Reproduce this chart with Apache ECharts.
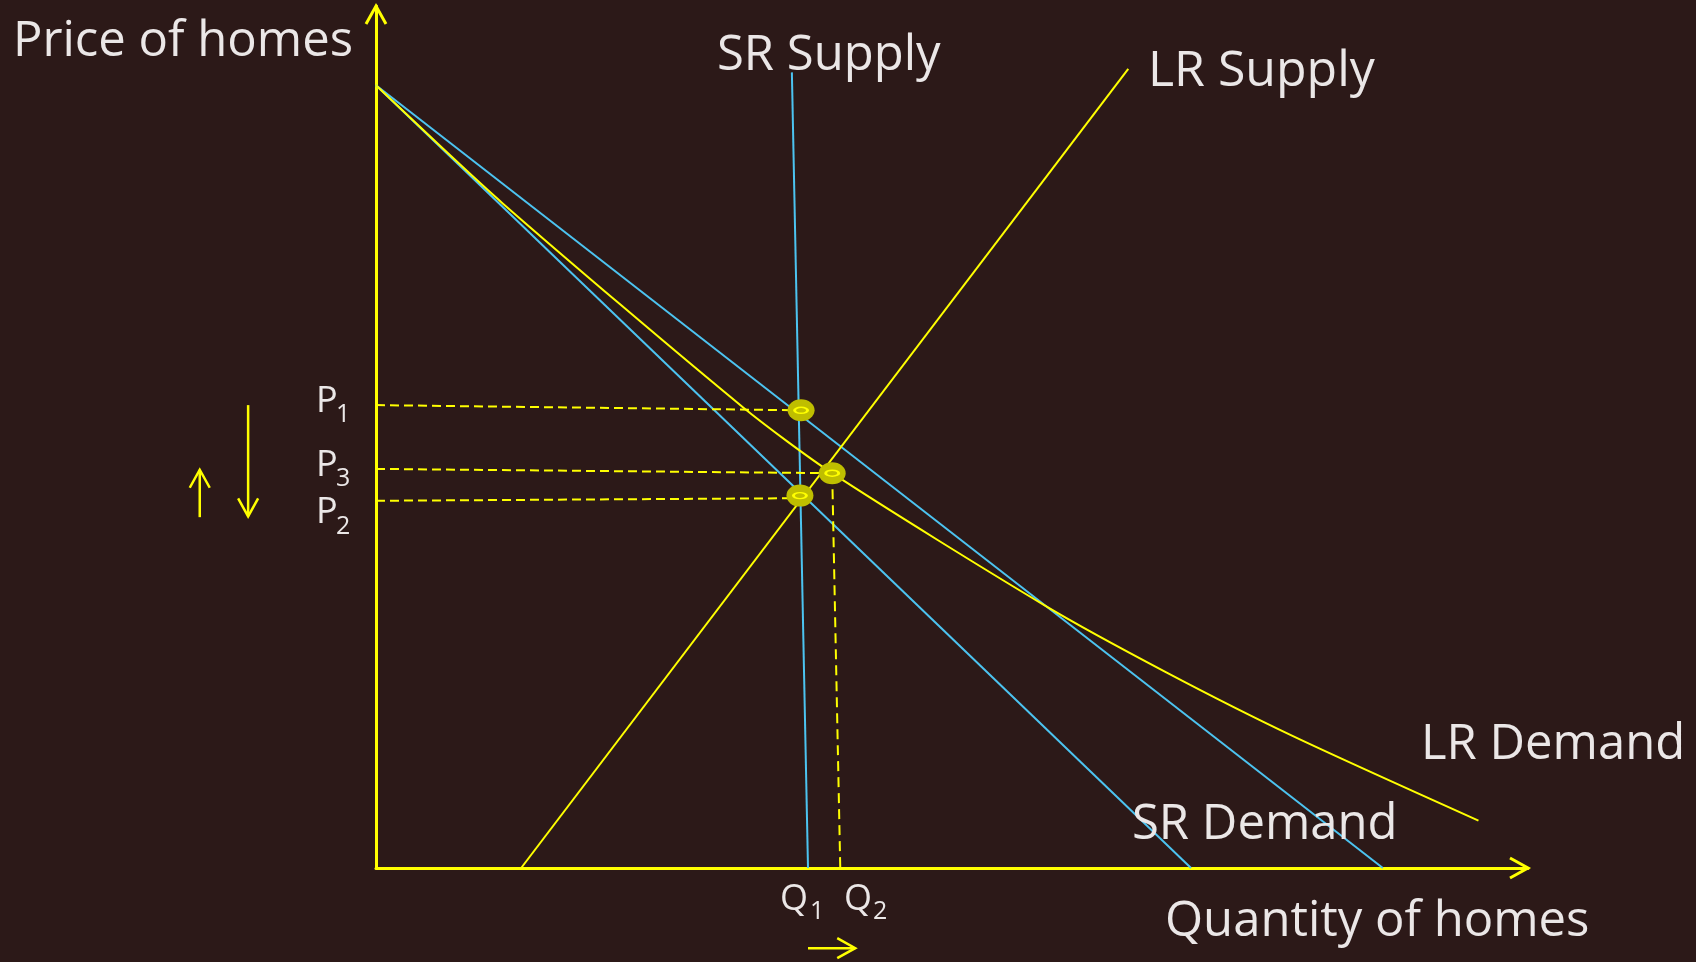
<!DOCTYPE html>
<html><head><meta charset="utf-8">
<script src="https://cdn.jsdelivr.net/npm/echarts@6/dist/echarts.min.js"></script>
<style>html,body{margin:0;padding:0;background:#2c1918;}#c{width:1696px;height:962px;}</style>
</head><body><div id="c"></div>
<script>
// ---- data (chart units: x 0..100 quantity, y 0..100 price) ----
const srDemandShort = [[0, 90.8], [70.75, 0]];
const srDemandLong = [[0, 90.8], [87.4, 0]];
const lrDemand = [[0, 90.8], [11.0, 77.1], [31.9, 53.4], [39.6, 45.8], [58.0, 30.5], [68.6, 22.7], [79.6, 15.3], [95.7, 5.5]];
const srSupply = [[36.1, 92.3], [37.5, 0]];
const lrSupply = [[12.6, 0], [65.3, 92.7]];
const equilibria = [[36.9, 53.1], [39.6, 45.8], [36.8, 43.2]];
const priceGuideP1 = [[0, 53.7], [36.9, 53.1]];
const priceGuideP3 = [[0, 46.3], [39.6, 45.8]];
const priceGuideP2 = [[0, 42.6], [36.8, 42.9]];
const quantityGuideQ2 = [[39.6, 45.8], [40.3, 0]];
const axisArrows = [[0, 90, 0, 100], [90, 0, 100, 0]];
const shiftArrows = [[-15.3, 40.7, -15.3, 46.2], [-11.1, 53.7, -11.1, 40.8], [37.5, -9.3, 41.6, -9.3]];
const axisTitles = ['Price of homes', 'Quantity of homes'];
const curveNames = ['SR Supply', 'LR Supply', 'LR Demand', 'SR Demand'];

const YEL = '#ffff00', BLUE = '#4cc3f0', TXT = '#ebe7e7';
const FONT = '"Open Sans", "Noto Sans", sans-serif';

function arrowRender(width, shaft) {
  return function (params, api) {
    const a = api.coord([api.value(0), api.value(1)]);
    const b = api.coord([api.value(2), api.value(3)]);
    const dx = b[0] - a[0], dy = b[1] - a[1];
    const len = Math.hypot(dx, dy), ux = dx / len, uy = dy / len;
    const L = 18, W = 10;
    const p1 = [b[0] - ux * L - uy * W, b[1] - uy * L + ux * W];
    const p2 = [b[0] - ux * L + uy * W, b[1] - uy * L - ux * W];
    const children = [{ type: 'polyline', shape: { points: [p1, b, p2] }, style: { stroke: YEL, lineWidth: width, fill: null } }];
    if (shaft) children.push({ type: 'line', shape: { x1: a[0], y1: a[1], x2: b[0], y2: b[1] }, style: { stroke: YEL, lineWidth: width } });
    return { type: 'group', children };
  };
}

function lineSeries(data, color, extra) {
  return Object.assign({
    type: 'line', data, symbol: 'none', clip: false, smooth: false,
    lineStyle: { color, width: 2 }, silent: true, animation: false
  }, extra || {});
}
function dashed(data) {
  return lineSeries(data, YEL, { lineStyle: { color: YEL, width: 2, type: [9, 5] }, z: 3 });
}

function txt(text, x, y, size) {
  return { type: 'text', x, y, silent: true, z: 100,
    style: { text, fill: TXT, font: size + 'px ' + FONT, textAlign: 'left', textVerticalAlign: 'middle', align: 'left', verticalAlign: 'middle' } };
}

const chart = echarts.init(document.getElementById('c'), null, { renderer: 'canvas' });
chart.setOption({
  backgroundColor: '#2c1918',
  animation: false,
  grid: { left: 376, right: 168, top: 6, bottom: 94, outerBoundsMode: 'none', containLabel: false },
  xAxis: { type: 'value', min: 0, max: 100, axisLine: { show: true, onZero: false, lineStyle: { color: YEL, width: 3 } },
    axisTick: { show: false }, axisLabel: { show: false }, splitLine: { show: false } },
  yAxis: { type: 'value', min: 0, max: 100, axisLine: { show: true, onZero: false, lineStyle: { color: YEL, width: 3 } },
    axisTick: { show: false }, axisLabel: { show: false }, splitLine: { show: false } },
  series: [
    lineSeries(srDemandShort, BLUE),
    lineSeries(srDemandLong, BLUE),
    lineSeries(srSupply, BLUE),
    lineSeries(lrSupply, YEL),
    lineSeries(lrDemand, YEL, { smooth: 0.25 }),
    dashed(priceGuideP1), dashed(priceGuideP3), dashed(priceGuideP2),
    lineSeries(quantityGuideQ2, YEL, { lineStyle: { color: YEL, width: 2, type: [10, 6] }, z: 3 }),
    { type: 'scatter', data: equilibria, symbol: 'circle', symbolSize: [27, 22], silent: true, z: 5,
      itemStyle: { color: '#bfbe00', opacity: 1 } },
    { type: 'scatter', data: equilibria, symbol: 'circle', symbolSize: [13, 6], silent: true, z: 6,
      itemStyle: { color: '#bfbe00', borderColor: YEL, borderWidth: 2, opacity: 1 } },
    { type: 'custom', data: axisArrows, renderItem: arrowRender(3, false), silent: true, z: 4, clip: false,
      encode: { x: [0, 2], y: [1, 3] } },
    { type: 'custom', data: shiftArrows, renderItem: arrowRender(2.5, true), silent: true, z: 4, clip: false,
      encode: { x: [0, 2], y: [1, 3] } }
  ],
  graphic: [
    txt(axisTitles[0], 13, 42, 49),
    txt(axisTitles[1], 1165, 922, 49),
    txt(curveNames[0], 717, 56, 49),
    txt(curveNames[1], 1148, 72, 50),
    txt(curveNames[2], 1421, 745, 49),
    txt(curveNames[3], 1132, 825, 49),
    txt('P', 316, 402, 36), txt('1', 336, 415, 25),
    txt('P', 316, 466, 36), txt('3', 336, 479, 25),
    txt('P', 316, 513, 36), txt('2', 336, 527, 25),
    txt('Q', 780, 900, 36), txt('1', 810, 912, 25),
    txt('Q', 844, 900, 36), txt('2', 873, 912, 25)
  ]
});
</script>
</body></html>
